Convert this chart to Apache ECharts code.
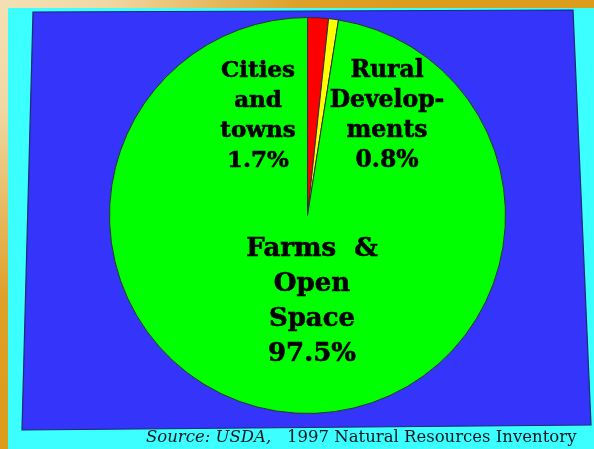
<!DOCTYPE html>
<html>
<head>
<meta charset="utf-8">
<script src="https://cdn.jsdelivr.net/npm/echarts@6/dist/echarts.min.js"></script>
<style>html,body{margin:0;padding:0;background:#e0a020;}#c{width:594px;height:449px;}</style>
</head>
<body>
<div id="c"></div>
<script>
var categories = ['Cities and towns', 'Rural Developments', 'Farms & Open Space'];
var values = [1.7, 0.8, 97.5];
var labelLines = [
  ['Cities', 'and', 'towns'],
  ['Rural', 'Develop-', 'ments'],
  ['Farms  &', 'Open', 'Space']
];
var sourceItalic = 'Source: USDA,';
var sourceText = '1997 Natural Resources Inventory';

var colors = ['#ff0000', '#ffff00', '#00ff00'];
var labelPos = [
  {x: 258, y: 116, fs: 23, lh: 30},
  {x: 387, y: 116, fs: 23.5, lh: 30},
  {x: 312, y: 302, fs: 26, lh: 35}
];

var chart = echarts.init(document.getElementById('c'));
var data = categories.map(function (name, i) {
  return {
    name: name,
    value: values[i],
    itemStyle: {color: colors[i]},
    label: {fontSize: labelPos[i].fs, lineHeight: labelPos[i].lh}
  };
});

chart.setOption({
  animation: false,
  graphic: [
    {type: 'rect', shape: {x: 0, y: 0, width: 594, height: 449}, z: -10,
      style: {fill: {type: 'radial', x: 0, y: 0, r: 0.95, colorStops: [
        {offset: 0, color: '#f4e0b4'}, {offset: 0.25, color: '#f0d8a4'}, {offset: 0.7, color: '#dea028'}, {offset: 1, color: '#dc9c1c'}]}}},
    {type: 'rect', shape: {x: 8, y: 8, width: 586, height: 441}, z: -9, style: {fill: '#3cffff'}},
    {type: 'polygon', shape: {points: [[33, 12], [573, 10], [591, 425], [22, 430]]}, z: -8,
      style: {fill: '#3434fa', stroke: '#1c2a70', lineWidth: 1.2}},
    {type: 'text', x: 146, y: 438, z: 5, style: {
      text: sourceItalic, fill: '#101820', font: 'italic 16.5px "DejaVu Serif", serif', verticalAlign: 'middle'}},
    {type: 'text', x: 287, y: 438, z: 5, style: {
      text: sourceText, fill: '#101820', font: '16.5px "DejaVu Serif", serif', verticalAlign: 'middle'}}
  ],
  series: [{
    type: 'pie',
    center: [307.5, 215.5],
    radius: 198,
    startAngle: 90,
    clockwise: true,
    silent: true,
    data: data,
    itemStyle: {borderColor: '#303030', borderWidth: 1},
    label: {
      show: true,
      position: 'inside',
      color: '#000',
      fontFamily: '"DejaVu Serif", serif',
      fontWeight: 'bold',
      textBorderColor: '#000',
      textBorderWidth: 0.6,
      align: 'center',
      formatter: function (p) {
        return labelLines[p.dataIndex].join('\n') + '\n' + p.value + '%';
      }
    },
    labelLine: {show: false},
    labelLayout: function (p) {
      var lp = labelPos[p.dataIndex];
      return {x: lp.x, y: lp.y, align: 'center', verticalAlign: 'middle'};
    }
  }]
});
</script>
</body>
</html>
